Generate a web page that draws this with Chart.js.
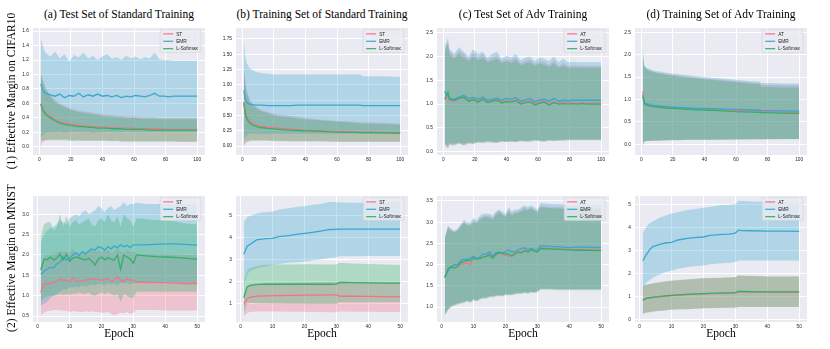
<!DOCTYPE html>
<html>
<head>
<meta charset="utf-8">
<script src="https://cdn.jsdelivr.net/npm/chart.js@4.4.0/dist/chart.umd.min.js"></script>
<style>
  html, body { margin: 0; padding: 0; background: #fff; }
  body { width: 830px; height: 349px; position: relative; overflow: hidden; }
  canvas { position: absolute; }
  .txt { position: absolute; font-family: "Liberation Serif", "Times New Roman", serif; font-size: 11.5px; line-height: 1; color: #000; white-space: nowrap; }
</style>
</head>
<body>
<script>
// ---- epochs ----
const E100 = [1,2,3,4,7,10,13,16,19,22,25,28,31,34,37,40,43,46,49,52,55,58,61,64,67,70,73,76,79,82,85,88,91,94,97,100];
const S100 = [1,2,3,4,5,6,8,10,13,16,20,25,30,35,40,50,60,70,75,76,80,90,100];
const E50 = [1,2,3,4,5,6,7,8,9,10,11,12,13,14,15,16,17,18,19,20,21,22,23,24,25,26,27,28,29,30,31,34,37,40,43,46,50];
const S50 = [1,2,3,4,5,6,8,10,12,15,18,20,22,25,28,30,31,32,35,40,45,50];

// ---- tick labels ----
const xTicks100 = ['0','20','40','60','80','100'];
const xTicks50 = ['0','10','20','30','40','50'];
const yTicksA = ['0.0','0.2','0.4','0.6','0.8','1.0','1.2','1.4','1.6'];
const yTicksB = ['0.00','0.25','0.50','0.75','1.00','1.25','1.50','1.75'];
const yTicksC = ['0.0','0.5','1.0','1.5','2.0','2.5'];
const yTicksE = ['0.5','1.0','1.5','2.0','2.5','3.0'];
const yTicksF = ['1','2','3','4','5'];
const yTicksG = ['1.0','1.5','2.0','2.5','3.0','3.5'];
const yTicksH = ['0','1','2','3','4','5'];

// ---- (a) CIFAR10, test set, standard training ----
const a_ST     = [0.60,0.54,0.50,0.47,0.42,0.38,0.35,0.33,0.32,0.31,0.30,0.29,0.29,0.28,0.28,0.27,0.27,0.27,0.26,0.26,0.26,0.26,0.25,0.25,0.25,0.25,0.25,0.25,0.24,0.24,0.24,0.24,0.24,0.24,0.24,0.24];
const a_ST_hi  = [1.05,0.95,0.88,0.82,0.72,0.65,0.60,0.57,0.54,0.52,0.50,0.49,0.48,0.47,0.46,0.45,0.44,0.44,0.43,0.43,0.42,0.42,0.42,0.41,0.41,0.41,0.41,0.40,0.40,0.40,0.40,0.40,0.40,0.40,0.40,0.40];
const a_ST_lo  = [-0.03,0.06,0.08,0.09,0.10,0.10,0.10,0.10,0.10,0.09,0.10,0.09,0.09,0.09,0.09,0.09,0.09,0.08,0.09,0.08,0.08,0.08,0.08,0.08,0.08,0.08,0.08,0.08,0.08,0.08,0.08,0.07,0.07,0.07,0.07,0.07];
const a_EMR    = [0.87,0.80,0.76,0.74,0.72,0.70,0.73,0.68,0.71,0.70,0.74,0.69,0.72,0.70,0.73,0.70,0.71,0.69,0.71,0.68,0.70,0.69,0.71,0.70,0.69,0.71,0.74,0.70,0.70,0.69,0.70,0.70,0.70,0.70,0.70,0.70];
const a_EMR_hi = [1.52,1.42,1.35,1.30,1.25,1.32,1.22,1.28,1.18,1.27,1.24,1.30,1.22,1.26,1.20,1.25,1.28,1.22,1.24,1.20,1.26,1.22,1.25,1.21,1.24,1.22,1.30,1.21,1.20,1.20,1.19,1.19,1.19,1.19,1.19,1.19];
const a_EMR_lo = [0.12,0.15,0.18,0.19,0.20,0.20,0.21,0.19,0.20,0.21,0.20,0.20,0.21,0.19,0.20,0.20,0.21,0.20,0.20,0.20,0.21,0.20,0.20,0.20,0.20,0.20,0.21,0.20,0.20,0.20,0.20,0.20,0.20,0.20,0.20,0.20];
const a_LS     = [0.59,0.52,0.48,0.45,0.40,0.36,0.33,0.31,0.30,0.29,0.28,0.28,0.27,0.27,0.26,0.26,0.26,0.25,0.25,0.25,0.24,0.24,0.24,0.24,0.24,0.23,0.23,0.23,0.23,0.23,0.23,0.23,0.23,0.23,0.23,0.23];
const a_LS_hi  = [1.00,0.92,0.85,0.80,0.70,0.62,0.58,0.55,0.52,0.50,0.48,0.47,0.46,0.45,0.44,0.43,0.42,0.42,0.41,0.41,0.40,0.40,0.40,0.39,0.39,0.39,0.39,0.38,0.38,0.38,0.38,0.38,0.38,0.38,0.38,0.38];
const a_LS_lo  = [0.10,0.08,0.08,0.09,0.09,0.09,0.09,0.09,0.08,0.08,0.08,0.08,0.08,0.08,0.08,0.08,0.08,0.08,0.08,0.07,0.07,0.07,0.07,0.07,0.07,0.07,0.07,0.07,0.07,0.07,0.07,0.07,0.07,0.07,0.07,0.07];

// ---- (b) CIFAR10, training set, standard training ----
const b_ST     = [0.72,0.55,0.47,0.43,0.40,0.38,0.36,0.34,0.32,0.31,0.30,0.29,0.28,0.27,0.26,0.25,0.24,0.235,0.23,0.23,0.23,0.225,0.22];
const b_ST_hi  = [1.30,1.05,0.90,0.82,0.75,0.71,0.66,0.62,0.58,0.56,0.53,0.51,0.49,0.48,0.46,0.43,0.41,0.40,0.39,0.39,0.39,0.38,0.37];
const b_ST_lo  = [0.00,0.05,0.07,0.08,0.08,0.09,0.09,0.09,0.09,0.09,0.09,0.09,0.08,0.08,0.08,0.08,0.07,0.07,0.07,0.07,0.07,0.07,0.07];
const b_EMR    = [0.91,0.76,0.71,0.69,0.68,0.68,0.67,0.67,0.67,0.66,0.66,0.66,0.66,0.67,0.67,0.67,0.67,0.67,0.67,0.66,0.66,0.66,0.66];
const b_EMR_hi = [1.72,1.45,1.35,1.30,1.27,1.25,1.22,1.20,1.19,1.18,1.17,1.17,1.17,1.17,1.17,1.17,1.17,1.17,1.17,1.14,1.14,1.14,1.13];
const b_EMR_lo = [0.10,0.15,0.18,0.19,0.20,0.20,0.20,0.20,0.20,0.20,0.20,0.20,0.20,0.20,0.20,0.20,0.20,0.20,0.20,0.20,0.20,0.20,0.20];
const b_LS     = [0.70,0.52,0.44,0.40,0.37,0.35,0.33,0.31,0.30,0.29,0.28,0.27,0.26,0.255,0.25,0.24,0.23,0.225,0.22,0.22,0.22,0.215,0.21];
const b_LS_hi  = [1.25,1.00,0.86,0.78,0.72,0.68,0.64,0.60,0.56,0.54,0.50,0.48,0.47,0.45,0.44,0.42,0.40,0.38,0.37,0.37,0.37,0.36,0.35];
const b_LS_lo  = [-0.02,0.07,0.08,0.08,0.09,0.09,0.09,0.09,0.09,0.09,0.08,0.08,0.08,0.08,0.08,0.08,0.07,0.07,0.07,0.07,0.07,0.07,0.07];

// ---- (c) CIFAR10, test set, adversarial training ----
const c_AT     = [1.10,1.12,1.18,1.08,1.05,1.15,1.12,1.08,1.10,1.06,1.12,1.05,1.08,1.10,1.04,1.07,1.06,1.09,1.03,1.05,1.08,1.00,1.04,1.06,1.02,1.05,1.01,1.04,1.02,1.03,1.02,1.03,1.02,1.02,1.02,1.02];
const c_AT_hi  = [2.15,2.25,2.30,2.10,2.00,2.12,2.05,1.95,2.08,1.98,2.05,1.92,1.98,2.02,1.90,1.95,1.92,1.98,1.86,1.90,1.94,1.84,1.90,1.88,1.82,1.92,1.80,1.86,1.80,1.81,1.80,1.80,1.80,1.80,1.80,1.80];
const c_AT_lo  = [0.15,0.12,0.10,0.16,0.15,0.18,0.14,0.18,0.17,0.20,0.19,0.21,0.20,0.19,0.22,0.21,0.22,0.21,0.23,0.22,0.22,0.24,0.23,0.22,0.24,0.23,0.24,0.24,0.25,0.25,0.25,0.25,0.25,0.25,0.25,0.25];
const c_EMR    = [1.27,1.18,1.22,1.12,1.10,1.15,1.18,1.12,1.14,1.10,1.15,1.08,1.10,1.13,1.08,1.12,1.10,1.14,1.06,1.09,1.12,1.05,1.08,1.10,1.06,1.12,1.06,1.08,1.07,1.08,1.08,1.08,1.08,1.08,1.08,1.08];
const c_EMR_hi = [2.20,2.30,2.40,2.15,2.05,2.20,2.10,2.00,2.15,2.05,2.10,1.98,2.05,2.10,1.95,2.02,1.98,2.05,1.92,1.98,2.00,1.90,1.98,1.95,1.90,2.00,1.88,1.95,1.88,1.89,1.88,1.88,1.88,1.88,1.88,1.88];
const c_EMR_lo = [0.18,0.15,0.14,0.18,0.17,0.20,0.17,0.20,0.19,0.22,0.21,0.23,0.22,0.21,0.23,0.22,0.23,0.22,0.24,0.23,0.24,0.25,0.24,0.23,0.25,0.24,0.25,0.25,0.26,0.26,0.26,0.26,0.26,0.26,0.26,0.26];
const c_LS     = [1.10,1.18,1.25,1.10,1.08,1.12,1.15,1.06,1.09,1.04,1.10,1.03,1.06,1.08,1.02,1.05,1.04,1.07,1.00,1.03,1.05,0.98,1.02,1.04,0.98,1.03,1.00,1.01,1.00,1.01,1.00,1.01,1.00,1.00,1.00,1.00];
const c_LS_hi  = [2.05,2.20,2.25,2.05,1.95,2.05,1.98,1.90,2.00,1.92,1.98,1.88,1.92,1.95,1.86,1.90,1.86,1.92,1.82,1.85,1.88,1.80,1.85,1.82,1.78,1.85,1.76,1.80,1.76,1.76,1.76,1.76,1.76,1.76,1.76,1.76];
const c_LS_lo  = [0.14,0.10,0.07,0.14,0.13,0.17,0.13,0.17,0.16,0.19,0.18,0.20,0.19,0.18,0.21,0.20,0.21,0.20,0.22,0.21,0.21,0.23,0.22,0.21,0.23,0.22,0.23,0.23,0.24,0.24,0.24,0.24,0.24,0.24,0.24,0.24];

// ---- (d) CIFAR10, training set, adversarial training ----
const d_AT     = [1.18,0.92,0.90,0.89,0.88,0.87,0.86,0.85,0.84,0.83,0.82,0.81,0.80,0.79,0.785,0.77,0.76,0.745,0.74,0.735,0.73,0.72,0.71];
const d_AT_hi  = [1.90,1.72,1.69,1.67,1.65,1.64,1.62,1.60,1.59,1.57,1.55,1.53,1.51,1.49,1.47,1.44,1.41,1.38,1.37,1.33,1.33,1.32,1.32];
const d_AT_lo  = [0.02,0.06,0.07,0.07,0.08,0.08,0.08,0.08,0.09,0.09,0.09,0.10,0.10,0.10,0.10,0.10,0.11,0.11,0.11,0.11,0.11,0.12,0.12];
const d_EMR    = [1.05,0.93,0.91,0.90,0.89,0.88,0.87,0.86,0.85,0.84,0.83,0.82,0.81,0.80,0.80,0.79,0.78,0.765,0.76,0.755,0.75,0.745,0.74];
const d_EMR_hi = [1.95,1.75,1.72,1.70,1.68,1.67,1.65,1.63,1.62,1.60,1.58,1.56,1.54,1.52,1.50,1.47,1.44,1.41,1.40,1.37,1.37,1.36,1.36];
const d_EMR_lo = [0.05,0.07,0.08,0.08,0.08,0.08,0.09,0.09,0.09,0.09,0.10,0.10,0.10,0.10,0.10,0.11,0.11,0.11,0.11,0.11,0.12,0.12,0.12];
const d_LS     = [1.10,0.90,0.88,0.87,0.86,0.85,0.84,0.83,0.82,0.81,0.80,0.79,0.78,0.77,0.765,0.75,0.73,0.72,0.715,0.71,0.705,0.695,0.69];
const d_LS_hi  = [2.15,1.74,1.70,1.67,1.65,1.63,1.61,1.59,1.57,1.55,1.53,1.51,1.49,1.47,1.45,1.42,1.39,1.35,1.34,1.28,1.28,1.27,1.27];
const d_LS_lo  = [-0.05,0.05,0.06,0.07,0.07,0.07,0.08,0.08,0.08,0.09,0.09,0.09,0.10,0.10,0.10,0.10,0.10,0.11,0.11,0.11,0.11,0.11,0.11];

// ---- (e) MNIST, test set, standard training ----
const e_ST     = [1.08,1.30,1.30,1.30,1.32,1.35,1.40,1.38,1.38,1.33,1.45,1.35,1.35,1.35,1.38,1.40,1.42,1.40,1.40,1.38,1.40,1.42,1.35,1.38,1.47,1.38,1.35,1.42,1.38,1.38,1.33,1.33,1.32,1.32,1.31,1.30,1.30];
const e_ST_hi  = [1.70,1.95,2.00,2.00,2.02,2.05,2.10,2.08,2.08,2.03,2.15,2.05,2.05,2.05,2.08,2.10,2.12,2.10,2.10,2.08,2.10,2.12,2.05,2.08,2.17,2.08,2.05,2.12,2.08,2.08,2.03,2.03,2.02,2.02,2.01,2.00,2.00];
const e_ST_lo  = [0.52,0.58,0.62,0.63,0.65,0.65,0.65,0.63,0.63,0.60,0.62,0.62,0.60,0.60,0.62,0.60,0.62,0.60,0.60,0.58,0.58,0.60,0.56,0.52,0.55,0.58,0.57,0.60,0.55,0.58,0.65,0.65,0.65,0.64,0.64,0.64,0.64];
const e_EMR    = [1.52,1.60,1.65,1.70,1.68,1.78,1.82,1.95,1.88,1.92,2.00,2.05,1.98,2.08,2.02,2.10,2.15,2.12,2.20,2.18,2.12,2.20,2.15,2.22,2.18,2.25,2.20,2.24,2.18,2.25,2.25,2.25,2.26,2.27,2.27,2.26,2.24];
const e_EMR_hi = [2.30,2.50,2.60,2.65,2.70,2.75,2.85,2.80,2.75,2.90,2.95,3.00,2.95,3.05,3.10,3.00,3.05,3.10,3.20,3.15,3.05,3.15,3.20,3.10,3.15,3.20,3.30,3.20,3.25,3.25,3.28,3.25,3.25,3.25,3.25,3.25,3.25];
const e_EMR_lo = [0.75,0.80,0.85,0.95,1.00,1.05,1.10,1.15,1.15,1.20,1.20,1.22,1.20,1.25,1.22,1.25,1.28,1.25,1.30,1.28,1.25,1.30,1.28,1.30,1.25,1.32,1.30,1.32,1.28,1.30,1.32,1.32,1.33,1.33,1.33,1.32,1.32];
const e_LS     = [1.63,1.90,1.88,1.95,1.88,1.92,2.02,1.88,2.02,1.85,1.92,1.95,1.93,1.90,1.88,1.92,1.85,1.75,1.90,1.95,1.88,1.93,1.90,1.87,2.00,1.65,2.00,1.95,1.90,1.80,2.00,1.98,1.96,1.95,1.94,1.92,1.90];
const e_LS_hi  = [2.45,2.75,2.80,2.80,2.60,2.70,3.00,2.70,2.95,2.70,2.80,2.85,2.75,2.80,2.85,2.90,2.75,2.70,2.85,2.90,2.80,3.00,2.85,2.80,2.95,2.70,3.00,2.90,2.85,2.70,2.90,2.88,2.86,2.85,2.82,2.78,2.75];
const e_LS_lo  = [0.85,0.95,0.98,1.00,1.00,1.02,1.05,1.02,1.05,1.02,1.05,1.05,1.08,1.05,1.05,1.08,1.02,1.00,1.05,1.08,1.05,1.08,1.05,1.00,1.05,0.85,1.05,1.00,0.95,0.95,1.10,1.10,1.10,1.10,1.10,1.10,1.10];

// ---- (f) MNIST, training set, standard training ----
const f_ST     = [0.95,1.20,1.28,1.30,1.32,1.33,1.34,1.35,1.35,1.36,1.36,1.37,1.37,1.37,1.38,1.38,1.33,1.32,1.32,1.31,1.30,1.30];
const f_ST_hi  = [1.40,1.75,1.85,1.88,1.90,1.92,1.93,1.94,1.95,1.95,1.96,1.96,1.96,1.97,1.97,1.97,2.00,2.00,2.00,1.99,1.98,1.98];
const f_ST_lo  = [0.40,0.55,0.60,0.61,0.62,0.62,0.62,0.62,0.62,0.61,0.61,0.61,0.60,0.60,0.59,0.59,0.62,0.62,0.61,0.61,0.60,0.60];
const f_EMR    = [3.25,3.60,3.70,3.80,3.90,3.93,3.96,3.97,4.05,4.10,4.17,4.20,4.24,4.30,4.38,4.39,4.40,4.40,4.40,4.40,4.40,4.40];
const f_EMR_hi = [4.70,4.95,5.00,5.05,5.10,5.15,5.18,5.20,5.28,5.35,5.42,5.45,5.50,5.55,5.65,5.63,5.62,5.62,5.60,5.60,5.62,5.65];
const f_EMR_lo = [1.85,2.30,2.50,2.55,2.60,2.65,2.70,2.75,2.80,2.85,2.88,2.90,2.95,3.00,3.08,3.10,3.15,3.15,3.15,3.16,3.16,3.16];
const f_LS     = [1.25,1.75,1.82,1.84,1.85,1.86,1.88,1.87,1.87,1.87,1.87,1.87,1.87,1.87,1.87,1.88,1.95,1.95,1.94,1.93,1.92,1.92];
const f_LS_hi  = [2.00,2.45,2.60,2.65,2.70,2.72,2.75,2.76,2.77,2.78,2.78,2.79,2.79,2.78,2.78,2.78,2.85,2.84,2.82,2.80,2.78,2.75];
const f_LS_lo  = [0.50,1.00,1.02,1.02,1.00,1.00,1.00,0.99,0.99,0.98,0.98,0.98,0.97,0.97,0.96,0.96,1.05,1.05,1.05,1.05,1.06,1.06];

// ---- (g) MNIST, test set, adversarial training ----
const g_AT     = [1.70,1.90,1.95,1.98,2.00,2.02,2.02,2.05,2.00,2.20,2.15,2.15,2.18,2.20,2.25,2.20,2.22,2.30,2.25,2.22,2.20,2.22,2.30,2.28,2.30,2.35,2.30,2.35,2.32,2.30,2.40,2.38,2.37,2.36,2.36,2.35,2.35];
const g_AT_hi  = [2.62,2.92,2.82,2.78,2.82,2.92,3.00,2.95,2.95,3.05,3.00,3.10,3.15,3.15,3.15,3.10,3.22,3.28,3.20,3.15,3.30,3.20,3.25,3.25,3.30,3.35,3.30,3.35,3.30,3.25,3.38,3.36,3.35,3.34,3.34,3.33,3.33];
const g_AT_lo  = [0.82,0.95,1.02,1.05,1.08,1.10,1.12,1.15,1.12,1.18,1.15,1.20,1.22,1.22,1.25,1.25,1.27,1.28,1.27,1.30,1.30,1.30,1.32,1.33,1.33,1.35,1.33,1.36,1.35,1.37,1.43,1.43,1.42,1.42,1.42,1.42,1.42];
const g_EMR    = [1.72,1.85,1.95,2.00,2.00,2.10,2.13,2.12,2.15,2.20,2.15,2.18,2.25,2.25,2.30,2.20,2.28,2.30,2.27,2.30,2.35,2.30,2.30,2.35,2.38,2.40,2.35,2.38,2.36,2.35,2.45,2.43,2.42,2.40,2.42,2.41,2.40];
const g_EMR_hi = [2.65,2.90,2.85,2.80,2.85,2.95,3.05,3.00,3.00,3.10,3.05,3.15,3.20,3.20,3.20,3.15,3.25,3.30,3.25,3.20,3.35,3.25,3.30,3.30,3.35,3.40,3.35,3.40,3.35,3.30,3.45,3.43,3.42,3.40,3.42,3.40,3.40];
const g_EMR_lo = [0.84,0.97,1.04,1.06,1.10,1.12,1.13,1.16,1.14,1.20,1.17,1.21,1.23,1.24,1.26,1.26,1.28,1.30,1.28,1.31,1.31,1.31,1.33,1.34,1.34,1.36,1.35,1.37,1.36,1.38,1.44,1.44,1.43,1.43,1.43,1.43,1.43];
const g_LS     = [1.70,1.90,1.95,1.92,1.95,2.05,2.08,2.10,2.10,2.15,2.13,2.15,2.17,2.20,2.22,2.15,2.25,2.28,2.27,2.25,2.25,2.20,2.25,2.30,2.28,2.33,2.30,2.35,2.32,2.30,2.38,2.37,2.36,2.35,2.34,2.34,2.33];
const g_LS_hi  = [2.60,2.85,2.80,2.75,2.80,2.90,3.00,2.92,2.92,3.00,2.98,3.05,3.10,3.12,3.10,3.05,3.15,3.22,3.18,3.12,3.25,3.15,3.20,3.22,3.25,3.30,3.28,3.32,3.28,3.22,3.35,3.33,3.32,3.31,3.31,3.30,3.30];
const g_LS_lo  = [0.80,0.93,1.00,1.03,1.06,1.08,1.10,1.13,1.10,1.16,1.13,1.18,1.20,1.20,1.23,1.23,1.25,1.26,1.25,1.28,1.28,1.28,1.30,1.31,1.31,1.33,1.31,1.34,1.33,1.35,1.41,1.41,1.40,1.40,1.40,1.40,1.40];

// ---- (h) MNIST, training set, adversarial training ----
const h_AT     = [0.84,0.91,0.94,0.96,0.98,0.99,1.02,1.04,1.06,1.09,1.11,1.12,1.13,1.14,1.15,1.16,1.21,1.21,1.20,1.19,1.19,1.19];
const h_AT_hi  = [1.43,1.50,1.53,1.56,1.58,1.60,1.64,1.68,1.70,1.73,1.76,1.78,1.79,1.80,1.82,1.83,1.90,1.89,1.88,1.86,1.86,1.86];
const h_AT_lo  = [0.26,0.31,0.33,0.35,0.37,0.39,0.41,0.44,0.45,0.46,0.48,0.50,0.51,0.52,0.53,0.53,0.56,0.56,0.56,0.56,0.56,0.56];
const h_EMR    = [2.55,2.80,3.00,3.15,3.20,3.25,3.32,3.35,3.45,3.52,3.56,3.58,3.65,3.68,3.70,3.75,3.88,3.86,3.85,3.83,3.83,3.82];
const h_EMR_hi = [3.75,4.00,4.15,4.25,4.32,4.40,4.50,4.60,4.65,4.75,4.80,4.85,4.88,4.95,4.98,5.00,5.15,5.14,5.12,5.10,5.08,5.05];
const h_EMR_lo = [1.35,1.60,1.70,1.80,1.88,1.95,2.05,2.12,2.20,2.28,2.32,2.35,2.40,2.43,2.46,2.50,2.56,2.56,2.56,2.56,2.56,2.56];
const h_LS     = [0.85,0.92,0.95,0.97,0.99,1.00,1.03,1.05,1.07,1.10,1.12,1.13,1.14,1.15,1.16,1.17,1.22,1.22,1.21,1.20,1.20,1.20];
const h_LS_hi  = [1.45,1.52,1.55,1.58,1.60,1.62,1.66,1.70,1.72,1.75,1.78,1.80,1.81,1.82,1.84,1.85,1.92,1.91,1.90,1.88,1.88,1.88];
const h_LS_lo  = [0.25,0.30,0.32,0.34,0.36,0.38,0.40,0.43,0.44,0.45,0.47,0.50,0.50,0.51,0.52,0.52,0.55,0.55,0.55,0.55,0.55,0.55];

const namesStd = ['ST', 'EMR', 'L-Softmax'];
const namesAdv = ['AT', 'EMR', 'L-Softmax'];
const colors = ['#f77189', '#39a7d0', '#32b166'];
const bandColors = ['rgba(247,113,137,0.32)', 'rgba(57,167,208,0.32)', 'rgba(50,177,102,0.32)'];

// layout of the 4x2 grid (plot areas in page pixels)
const colLeft = [33, 236, 437, 635];
const plotW = 172;
const rowTop = [26, 194];
const rowH = [129, 128];

const panels = [
  { title: '(a) Test Set of Standard Training', col: 0, row: 0, x: E100, names: namesStd,
    mean: [a_ST, a_EMR, a_LS], lo: [a_ST_lo, a_EMR_lo, a_LS_lo], hi: [a_ST_hi, a_EMR_hi, a_LS_hi],
    xr: [-3.95, 104.95], yr: [-0.113, 1.645], xt: xTicks100, yt: yTicksA },
  { title: '(b) Training Set of Standard Training', col: 1, row: 0, x: S100, names: namesStd,
    mean: [b_ST, b_EMR, b_LS], lo: [b_ST_lo, b_EMR_lo, b_LS_lo], hi: [b_ST_hi, b_EMR_hi, b_LS_hi],
    xr: [-3.95, 104.95], yr: [-0.145, 1.93], xt: xTicks100, yt: yTicksB },
  { title: '(c) Test Set of Adv Training', col: 2, row: 0, x: E100, names: namesAdv,
    mean: [c_AT, c_EMR, c_LS], lo: [c_AT_lo, c_EMR_lo, c_LS_lo], hi: [c_AT_hi, c_EMR_hi, c_LS_hi],
    xr: [-3.95, 104.95], yr: [-0.07, 2.6], xt: xTicks100, yt: yTicksC },
  { title: '(d) Training Set of Adv Training', col: 3, row: 0, x: S100, names: namesAdv,
    mean: [d_AT, d_EMR, d_LS], lo: [d_AT_lo, d_EMR_lo, d_LS_lo], hi: [d_AT_hi, d_EMR_hi, d_LS_hi],
    xr: [-3.95, 104.95], yr: [-0.24, 2.6], xt: xTicks100, yt: yTicksC },
  { title: null, col: 0, row: 1, x: E50, names: namesStd,
    mean: [e_ST, e_EMR, e_LS], lo: [e_ST_lo, e_EMR_lo, e_LS_lo], hi: [e_ST_hi, e_EMR_hi, e_LS_hi],
    xr: [-1.45, 52.45], yr: [0.355, 3.45], xt: xTicks50, yt: yTicksE },
  { title: null, col: 1, row: 1, x: S50, names: namesStd,
    mean: [f_ST, f_EMR, f_LS], lo: [f_ST_lo, f_EMR_lo, f_LS_lo], hi: [f_ST_hi, f_EMR_hi, f_LS_hi],
    xr: [-1.45, 52.45], yr: [0.14, 5.92], xt: xTicks50, yt: yTicksF },
  { title: null, col: 2, row: 1, x: E50, names: namesAdv,
    mean: [g_AT, g_EMR, g_LS], lo: [g_AT_lo, g_EMR_lo, g_LS_lo], hi: [g_AT_hi, g_EMR_hi, g_LS_hi],
    xr: [-1.45, 52.45], yr: [0.65, 3.62], xt: xTicks50, yt: yTicksG },
  { title: null, col: 3, row: 1, x: S50, names: namesAdv,
    mean: [h_AT, h_EMR, h_LS], lo: [h_AT_lo, h_EMR_lo, h_LS_lo], hi: [h_AT_hi, h_EMR_hi, h_LS_hi],
    xr: [-1.45, 52.45], yr: [-0.1, 5.36], xt: xTicks50, yt: yTicksH },
];

const Y_AXIS_W = 22, X_AXIS_H = 12, PAD_TOP = 5, PAD_RIGHT = 8;
const tickFont = { family: '"Liberation Sans", Arial, sans-serif', size: 4.8 };

function pts(xs, ys) {
  return xs.map((x, i) => ({ x: x, y: ys[i] }));
}

function addText(text, css) {
  const d = document.createElement('div');
  d.className = 'txt';
  d.textContent = text;
  Object.assign(d.style, css);
  document.body.appendChild(d);
}

function makeLegend(names) {
  return {
    id: 'insideLegend',
    afterDraw(chart) {
      const { ctx, chartArea } = chart;
      ctx.save();
      ctx.font = '4.8px "Liberation Sans", Arial, sans-serif';
      const tw = Math.max(...names.map(n => ctx.measureText(n).width));
      const rowGap = 7.4;
      const w = 3 + 10 + 3 + tw + 3;
      const h = 4 + names.length * rowGap - 3;
      const x = chartArea.right - 4 - w;
      const y = chartArea.top + 1.5;
      ctx.beginPath();
      if (ctx.roundRect) ctx.roundRect(x, y, w, h, 1.5); else ctx.rect(x, y, w, h);
      ctx.fillStyle = 'rgba(234,234,242,0.8)';
      ctx.fill();
      ctx.lineWidth = 0.6;
      ctx.strokeStyle = 'rgba(204,204,204,0.8)';
      ctx.stroke();
      names.forEach((n, i) => {
        const cy = y + 4.5 + i * rowGap;
        ctx.beginPath();
        ctx.moveTo(x + 3, cy);
        ctx.lineTo(x + 13, cy);
        ctx.strokeStyle = colors[i];
        ctx.lineWidth = 1.2;
        ctx.stroke();
        ctx.fillStyle = '#262626';
        ctx.textBaseline = 'middle';
        ctx.fillText(n, x + 16, cy + 0.3);
      });
      ctx.restore();
    }
  };
}

const areaBg = {
  id: 'areaBg',
  beforeDraw(chart) {
    const { ctx, chartArea: a } = chart;
    ctx.save();
    ctx.fillStyle = '#eaeaf2';
    ctx.fillRect(a.left, a.top, a.right - a.left, a.bottom - a.top);
    ctx.restore();
  }
};

panels.forEach(p => {
  const L = colLeft[p.col], T = rowTop[p.row], H = rowH[p.row];
  const cv = document.createElement('canvas');
  cv.width = plotW + Y_AXIS_W + PAD_RIGHT;
  cv.height = H + PAD_TOP + X_AXIS_H;
  cv.style.left = (L - Y_AXIS_W) + 'px';
  cv.style.top = (T - PAD_TOP) + 'px';
  document.body.appendChild(cv);

  // bands: L-Softmax first so ST fill is painted first (bottom)
  const datasets = [];
  [2, 1, 0].forEach(k => {
    datasets.push({ data: pts(p.x, p.lo[k]), borderWidth: 0, borderColor: 'transparent', pointRadius: 0, fill: false });
    datasets.push({ data: pts(p.x, p.hi[k]), borderWidth: 0, borderColor: 'transparent', pointRadius: 0,
      fill: '-1', backgroundColor: bandColors[k] });
  });
  [2, 1, 0].forEach(k => {
    datasets.push({ label: p.names[k], data: pts(p.x, p.mean[k]), borderColor: colors[k], borderWidth: 1.3,
      pointRadius: 0, fill: false });
  });

  new Chart(cv, {
    type: 'line',
    data: { datasets },
    options: {
      responsive: false,
      animation: false,
      events: [],
      layout: { padding: { left: 0, top: PAD_TOP, right: PAD_RIGHT, bottom: 0 } },
      elements: { line: { tension: 0 } },
      plugins: {
        legend: { display: false },
        tooltip: { enabled: false },
        filler: { propagate: false, drawTime: 'beforeDatasetsDraw' }
      },
      scales: {
        x: {
          type: 'linear', min: p.xr[0], max: p.xr[1],
          afterFit: s => { s.height = X_AXIS_H; },
          afterBuildTicks: s => { s.ticks = p.xt.map(v => ({ value: parseFloat(v) })); },
          ticks: { font: tickFont, color: '#262626', padding: 2, maxRotation: 0, autoSkip: false,
            callback: (v, i) => p.xt[i] },
          grid: { color: '#ffffff', lineWidth: 1, drawTicks: false },
          border: { display: false }
        },
        y: {
          type: 'linear', min: p.yr[0], max: p.yr[1],
          afterFit: s => { s.width = Y_AXIS_W; },
          afterBuildTicks: s => { s.ticks = p.yt.map(v => ({ value: parseFloat(v) })); },
          ticks: { font: tickFont, color: '#262626', padding: 4, autoSkip: false,
            callback: (v, i) => p.yt[i] },
          grid: { color: '#ffffff', lineWidth: 1, drawTicks: false },
          border: { display: false }
        }
      }
    },
    plugins: [areaBg, makeLegend(p.names)]
  });

  if (p.title) {
    addText(p.title, { left: (L + plotW / 2) + 'px', top: '9.4px', transform: 'translateX(-50%)' });
  }
  if (p.row === 1) {
    addText('Epoch', { left: (L + plotW / 2) + 'px', top: '328px', transform: 'translateX(-50%)' });
  }
});

addText('(1) Effective Margin on CIFAR10', { left: '11.5px', top: '90.5px', transform: 'translate(-50%,-50%) rotate(-90deg)' });
addText('(2) Effective Margin on MNIST', { left: '11.5px', top: '258px', transform: 'translate(-50%,-50%) rotate(-90deg)' });
</script>
</body>
</html>
